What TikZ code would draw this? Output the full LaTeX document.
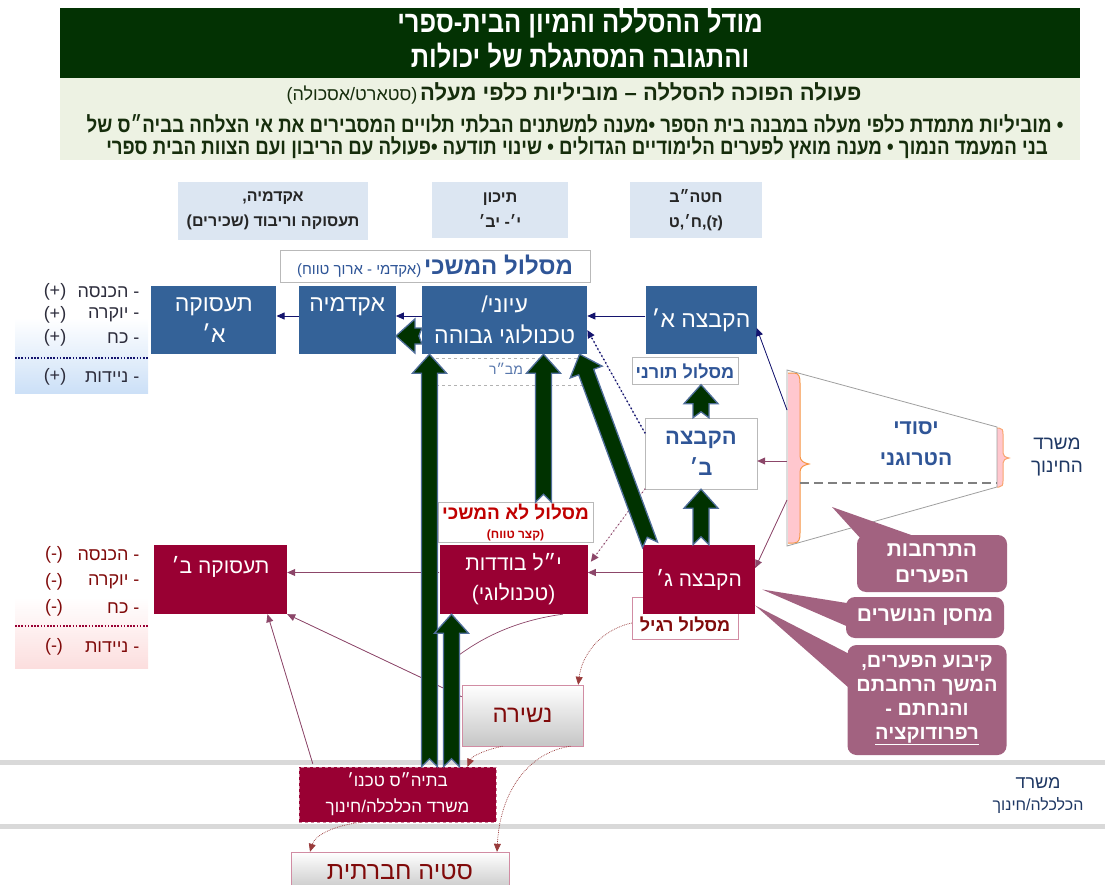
\documentclass[tikz,border=0pt]{standalone}
\usepackage{fontspec}
\setmainfont{Liberation Sans}
\newfontfamily\hebfont[Script=Hebrew]{Liberation Sans}
\newfontfamily\hebnarrow[Script=Hebrew,FakeStretch=0.85]{Liberation Sans}
\TeXXeTstate=1
\usepackage{tikz}
\usetikzlibrary{positioning,calc,arrows.meta}

\definecolor{ttlgreen}{RGB}{3,50,3}
\definecolor{subbg}{RGB}{237,242,227}
\definecolor{subtxt}{RGB}{22,45,12}
\definecolor{lblbg}{RGB}{220,230,242}
\definecolor{boxblue}{RGB}{52,98,152}
\definecolor{boxred}{RGB}{153,0,51}
\definecolor{callmauve}{RGB}{162,98,128}
\definecolor{navyarr}{RGB}{20,20,110}
\definecolor{mauvearr}{RGB}{140,70,105}
\definecolor{fatgreen}{RGB}{0,50,0}
\definecolor{fatedge}{RGB}{80,110,155}
\definecolor{txtblue}{RGB}{47,85,151}
\definecolor{txtred}{RGB}{192,0,0}
\definecolor{darkred}{RGB}{128,10,10}
\definecolor{slate}{RGB}{31,56,100}
\definecolor{bracepink}{RGB}{255,199,206}
\definecolor{braceorange}{RGB}{247,150,70}
\definecolor{listblue}{RGB}{204,224,247}
\definecolor{listpink}{RGB}{252,222,222}
\definecolor{listtxt}{RGB}{45,45,60}
\definecolor{bandgray}{RGB}{217,217,217}

\newcommand{\heb}[1]{{\hebfont\beginR #1\endR}}
\newcommand{\hebn}[1]{{\hebnarrow\beginR #1\endR}}
\newcommand{\fatarrow}[3][8pt]{%
  \coordinate (fa-s) at #2;
  \coordinate (fa-e) at #3;
  \coordinate (fa-h) at ($(fa-e)!19pt!(fa-s)$);
  \coordinate (fa-n) at ($(fa-s)!#1!(fa-e)$);
  \draw[fatarr] ($(fa-s)!8pt!90:(fa-e)$) -- ($(fa-h)!8pt!90:(fa-e)$)
    -- ($(fa-h)!17pt!90:(fa-e)$) -- (fa-e) -- ($(fa-h)!17pt!-90:(fa-e)$)
    -- ($(fa-h)!8pt!-90:(fa-e)$) -- ($(fa-s)!8pt!-90:(fa-e)$) -- (fa-n) -- cycle;
}

\begin{document}
\begin{tikzpicture}[x=1pt, y=-1pt, node distance=20pt]
\tikzstyle{bluebox}=[fill=boxblue, text=white, align=center, inner sep=0pt,
  font=\fontsize{23}{31}\selectfont]
\tikzstyle{redbox}=[fill=boxred, text=white, align=center, inner sep=0pt,
  font=\fontsize{21}{30}\selectfont]
\tikzstyle{whitebox}=[draw=gray!55, fill=white, align=center, inner sep=0pt]
\tikzstyle{lblbox}=[fill=lblbg, text=black!85, align=center, inner sep=0pt,
  font=\bfseries\fontsize{16}{25}\selectfont]
\tikzstyle{callbox}=[fill=callmauve, text=white, rounded corners=9pt, align=center,
  inner sep=0pt, font=\bfseries\fontsize{21}{26}\selectfont]
\tikzstyle{gradbox}=[draw=boxred!45, top color=white, bottom color=gray!45,
  text=darkred, inner sep=0pt]
\tikzstyle{link}=[-{Triangle[width=7pt,length=8pt]}, line width=0.8pt]
\tikzstyle{navylink}=[link, draw=navyarr, fill=navyarr]
\tikzstyle{mauvelink}=[link, draw=mauvearr, fill=mauvearr]
\tikzstyle{dots}=[line width=2pt, dash pattern=on 0pt off 4pt, line cap=round]
\tikzstyle{curvelink}=[link, draw=darkred!80, densely dotted, line width=0.7pt]
\tikzstyle{fatarr}=[fill=fatgreen, draw=fatedge, line width=1.3pt, line join=miter]
\tikzstyle{plusline}=[anchor=east, text=listtxt, font=\fontsize{18}{20}\selectfont]
\tikzstyle{minusline}=[anchor=east, text=darkred, font=\fontsize{18}{20}\selectfont]
\useasboundingbox (0,0) rectangle (1105,885);

\node[fill=ttlgreen, minimum width=1020pt, minimum height=70pt, inner sep=0pt] (title) at (570,43) {};
\node[text=white, align=center, inner sep=0pt, font=\bfseries\fontsize{30}{35}\selectfont] (titletxt) at (580,38)
  {\hebn{מודל ההסללה והמיון הבית-ספרי}\\\hebn{והתגובה המסתגלת של יכולות}};
\node[fill=subbg, minimum width=1020pt, minimum height=82pt, inner sep=0pt] (sub) at (570,119) {};
\node[text=subtxt] (sub1) at (574,93)
  {\heb{{\bfseries\fontsize{22}{24}\selectfont פעולה הפוכה להסללה – מוביליות כלפי מעלה}
  {\fontsize{18}{20}\selectfont (סטארט/אסכולה)}}};
\node[text=subtxt, font=\bfseries\fontsize{22}{24}\selectfont] (sub2) at (575,124)
  {\hebn{• מוביליות מתמדת כלפי מעלה במבנה בית הספר •מענה למשתנים הבלתי תלויים המסבירים את אי הצלחה בביה״ס של}};
\node[text=subtxt, font=\bfseries\fontsize{22}{24}\selectfont] (sub3) at (577,148)
  {\hebn{בני המעמד הנמוך • מענה מואץ לפערים הלימודיים הגדולים • שינוי תודעה •פעולה עם הריבון ועם הצוות הבית ספרי}};

\node[lblbox, minimum width=190pt, minimum height=58pt] (lblAkad) at (273,211)
  {\heb{אקדמיה,}\\\heb{תעסוקה וריבוד (שכירים)}};
\node[lblbox, minimum width=136pt, minimum height=56pt] (lblTichon) at (500,210)
  {\heb{תיכון}\\\heb{י׳- יב׳}};
\node[lblbox, minimum width=132pt, minimum height=56pt] (lblHatab) at (696,210)
  {\heb{חטה״ב}\\\heb{(ז),ח׳,ט}};
\node[whitebox, minimum width=310pt, minimum height=32pt, text=txtblue] (hemshech) at (435,266)
  {\heb{{\bfseries\fontsize{24}{26}\selectfont מסלול המשכי} {\fontsize{15}{17}\selectfont (אקדמי - ארוך טווח)}}};

\shade[top color=white, bottom color=listblue] (15,318) rectangle (148,393);
\shade[top color=white, bottom color=listpink] (15,597) rectangle (148,668);
\draw[line width=5pt, bandgray] (0,762.5) -- (1105,762.5);
\draw[line width=5pt, bandgray] (0,826.5) -- (1105,826.5);

\node[bluebox, minimum width=111pt, minimum height=68pt] (hakA) at (701,320) {\heb{הקבצה א׳}};
\node[bluebox, minimum width=165pt, minimum height=68pt, left=58pt of hakA] (iyuni)
  {\heb{עיוני/}\\\heb{טכנולוגי גבוהה}};
\node[bluebox, minimum width=97pt, minimum height=68pt, left=26pt of iyuni] (akad) {\heb{אקדמיה}\\~};
\node[bluebox, minimum width=125pt, minimum height=68pt, left=22pt of akad] (tasA)
  {\heb{תעסוקה}\\\heb{א׳}};

\node[plusline] (p1) at (143,292) {\heb{- הכנסה}};
\node[plusline] (p2) at (143,315) {\heb{- יוקרה}};
\node[plusline] (p3) at (143,338) {\heb{- כח}};
\node[plusline] (p4) at (143,377) {\heb{- ניידות}};
\foreach \yy/\nm in {292/ps1,315/ps2,338/ps3,377/ps4}
  \node[text=listtxt, font=\fontsize{18}{20}\selectfont] (\nm) at (55,\yy) {(+)};
\draw[navyarr, line width=1.6pt, dash pattern=on 1.6pt off 1.6pt] (15,358) -- (148,358);

\node[minusline] (m1) at (143,555) {\heb{- הכנסה}};
\node[minusline] (m2) at (143,582) {\heb{- יוקרה}};
\node[minusline] (m3) at (143,608) {\heb{- כח}};
\node[minusline] (m4) at (143,647) {\heb{- ניידות}};
\foreach \yy/\nm in {555/ms1,582/ms2,608/ms3,647/ms4}
  \node[text=darkred, font=\fontsize{18}{20}\selectfont] (\nm) at (54,\yy) {(-)};
\draw[boxred, line width=1.6pt, dash pattern=on 1.6pt off 1.6pt] (15,626) -- (148,626);

\draw[gray!60, dashed, line width=0.6pt] (430,358) -- (586,358);
\draw[gray!60, dashed, line width=0.6pt] (430,385) -- (586,385);
\node[text=txtblue!80, font=\fontsize{14}{16}\selectfont] (mabar) at (506,369) {\heb{מב״ר}};
\node[whitebox, minimum width=106pt, minimum height=27pt, text=txtblue,
  font=\bfseries\fontsize{18}{20}\selectfont] (torani) at (685,371) {\heb{מסלול תורני}};
\node[whitebox, minimum width=112pt, minimum height=71pt, text=txtblue,
  font=\bfseries\fontsize{22}{31}\selectfont] (hakB) at (701,453.5) {\heb{הקבצה}\\\heb{ב׳}};
\node[whitebox, minimum width=155pt, minimum height=40pt, text=txtred,
  font=\bfseries\fontsize{19}{19}\selectfont] (maslo) at (515.5,522.5)
  {\heb{מסלול לא המשכי}\\{\fontsize{12}{13}\selectfont\heb{(קצר טווח)}}};
\node[whitebox, draw=boxred!45, minimum width=106pt, minimum height=42pt] (ragil) at (685,618) {};

\node[redbox, minimum width=112pt, minimum height=69pt] (hakG) at (699,579.5) {\heb{הקבצה ג׳}};
\node[redbox, minimum width=148pt, minimum height=69pt, left=55pt of hakG] (yl)
  {\heb{י״ל בודדות}\\\heb{(טכנולוגי)}};
\node[redbox, minimum width=133pt, minimum height=69pt] (tasB) at (220.5,579.5) {\heb{תעסוקה ב׳}\\~};
\node[text=darkred, font=\bfseries\fontsize{18}{20}\selectfont] (ragiltxt) at ([yshift=-6pt]ragil.center)
  {\heb{מסלול רגיל}};

\fill[bracepink] (788,373) -- (794,373) .. controls (799,373) and (800,377) .. (800,383)
  -- (800,456) .. controls (800,461) and (804,463) .. (809,464) .. controls (804,465) and (800,467) .. (800,472)
  -- (800,533) .. controls (800,539) and (799,543) .. (794,543) -- (788,543) -- cycle;
\draw[braceorange, line width=1pt] (788,373) -- (794,373) .. controls (799,373) and (800,377) .. (800,383)
  -- (800,456) .. controls (800,461) and (804,463) .. (809,464) .. controls (804,465) and (800,467) .. (800,472)
  -- (800,533) .. controls (800,539) and (799,543) .. (794,543) -- (788,543);
\fill[bracepink] (997,428) -- (999,428) .. controls (1002,428) and (1003,430) .. (1003,434)
  -- (1003,453) .. controls (1003,456) and (1005,457) .. (1009,458) .. controls (1005,459) and (1003,460) .. (1003,463)
  -- (1003,481) .. controls (1003,485) and (1002,487) .. (999,487) -- (997,487) -- cycle;
\draw[braceorange!70!bracepink, line width=1pt] (997,428) -- (999,428) .. controls (1002,428) and (1003,430) .. (1003,434)
  -- (1003,453) .. controls (1003,456) and (1005,457) .. (1009,458) .. controls (1005,459) and (1003,460) .. (1003,463)
  -- (1003,481) .. controls (1003,485) and (1002,487) .. (999,487) -- (997,487);
\draw[gray!75, line width=0.8pt] (787,370) -- (997,427) -- (997,487) -- (787,546) -- cycle;
\draw[gray, line width=1.2pt, dash pattern=on 9pt off 5pt] (800,483) -- (997,483);
\node[text=txtblue, align=center, font=\bfseries\fontsize{21}{31}\selectfont] (yesodi) at (916,444)
  {\heb{יסודי}\\\heb{הטרוגני}};
\node[text=slate, align=center, font=\fontsize{19}{23}\selectfont] (misradHinuch) at (1057,457)
  {\heb{משרד}\\\heb{החינוך}};
\coordinate (trA) at (787,410);
\coordinate (trB) at (787,461);
\coordinate (trC) at (787,500);
\coordinate (tip1) at (832,507);

\node[callbox, minimum width=150pt, minimum height=57pt] (call1) at (932,563.5)
  {\heb{התרחבות}\\\heb{הפערים}};
\node[callbox, minimum width=158pt, minimum height=41pt] (call2) at (925,617.5) {\heb{מחסן הנושרים}};
\node[callbox, minimum width=159pt, minimum height=110pt, font=\bfseries\fontsize{20}{24}\selectfont]
  (call3) at (927,700)
  {\heb{קיבוע הפערים,}\\\heb{המשך הרחבתם}\\\heb{והנחתם -}\\\heb{\underline{רפרודוקציה}}};
\fill[callmauve] ([xshift=5pt,yshift=-5pt]call1.north west) -- ([xshift=68pt,yshift=-5pt]call1.north west) -- (tip1) -- cycle;
\fill[callmauve] ([xshift=4pt,yshift=14pt]call2.west) -- ([xshift=4pt,yshift=-10pt]call2.west)
  -- ([xshift=7pt,yshift=-10pt]hakG.east) -- cycle;
\fill[callmauve] ([xshift=4pt,yshift=45pt]call3.west) -- ([xshift=4pt,yshift=10pt]call3.west)
  -- ([yshift=-26pt]hakG.east) -- cycle;

\node[gradbox, minimum width=121pt, minimum height=61pt, font=\fontsize{24}{28}\selectfont] (nshira)
  at (522.5,715.5) {\heb{נשירה}};
\node[redbox, draw=boxred!50!white, dashed, minimum width=197pt, minimum height=55pt,
  font=\fontsize{17}{26}\selectfont] (bts) at (397.5,794.5)
  {\heb{בתיה״ס טכנו׳}\\\heb{משרד הכלכלה/חינוך}};
\node[gradbox, minimum width=218pt, minimum height=40pt, font=\fontsize{25}{28}\selectfont] (stiya)
  at (400,872) {\heb{סטיה חברתית}};
\node[text=slate, align=center, font=\fontsize{18}{22}\selectfont] (misradKalkala) at (1038,796)
  {\heb{משרד}\\{\fontsize{16}{18}\selectfont\heb{הכלכלה/חינוך}}};

\draw[navylink] ([yshift=4pt]hakA.west) -- ([yshift=4pt]iyuni.east);
\draw[navylink] ([yshift=4pt]iyuni.west) -- ([yshift=4pt]akad.east);
\draw[navylink] ([yshift=4pt]akad.west) -- ([yshift=4pt]tasA.east);
\draw[navylink] (trA) -- ([yshift=-8pt]hakA.east);
\draw[navylink, dots] ([yshift=-15pt]hakB.north west) -- ([yshift=-10pt]iyuni.east);
\draw[mauvelink] (trB) -- ([yshift=-7.5pt]hakB.east);
\draw[mauvelink] (trC) -- ([yshift=11.5pt]hakG.east);
\draw[mauvelink, dots, line width=1.6pt] (hakB.south west) -- ([xshift=3pt,yshift=-17pt]yl.north east);
\draw[mauvelink] ([yshift=7pt]hakG.west) -- ([yshift=7pt]yl.east);
\draw[mauvelink] ([yshift=7pt]yl.west) -- ([yshift=7pt]tasB.east);
\draw[mauvelink] ([yshift=-12pt]nshira.north west) -- (tasB.south east);
\draw[mauvelink] ([xshift=14pt,yshift=3pt]bts.north west) -- ([xshift=47pt]tasB.south);
\draw[mauvearr, line width=0.7pt] ([xshift=-25pt]yl.south east) .. controls (520,620) and (485,635) .. (455,658);
\draw[curvelink] ([yshift=-5pt]ragil.west) .. controls (600,630) and (582,655) .. ([xshift=-5pt]nshira.north east);
\draw[curvelink] ([xshift=-20pt]nshira.south) .. controls (485,750) and (472,756) .. ([xshift=70pt]bts.north);
\draw[curvelink] ([xshift=48pt]nshira.south) .. controls (530,752) and (500,790) .. ([xshift=97pt]stiya.north);
\draw[curvelink] ([xshift=-35pt]bts.south) .. controls (335,825) and (315,835) .. ([xshift=-90pt]stiya.north);

\fatarrow{([xshift=32pt]bts.north)}{([xshift=32pt]bts.north |- iyuni.south)}
\fatarrow{([xshift=54pt]bts.north)}{([xshift=54pt]bts.north |- yl.south)}
\fatarrow{([xshift=28pt]maslo.north)}{([xshift=28pt]maslo.north |- iyuni.south)}
\fatarrow{([xshift=-49pt]hakG.north)}{([xshift=75pt]iyuni.south)}
\fatarrow{([xshift=2pt]hakG.north)}{([xshift=2pt]hakG.north |- hakB.south)}
\fatarrow[6pt]{(hakB.north)}{(hakB.north |- torani.south)}
\fatarrow[3pt]{([yshift=-16pt]iyuni.west)}{([yshift=-16pt]akad.east)}
\end{tikzpicture}
\end{document}
